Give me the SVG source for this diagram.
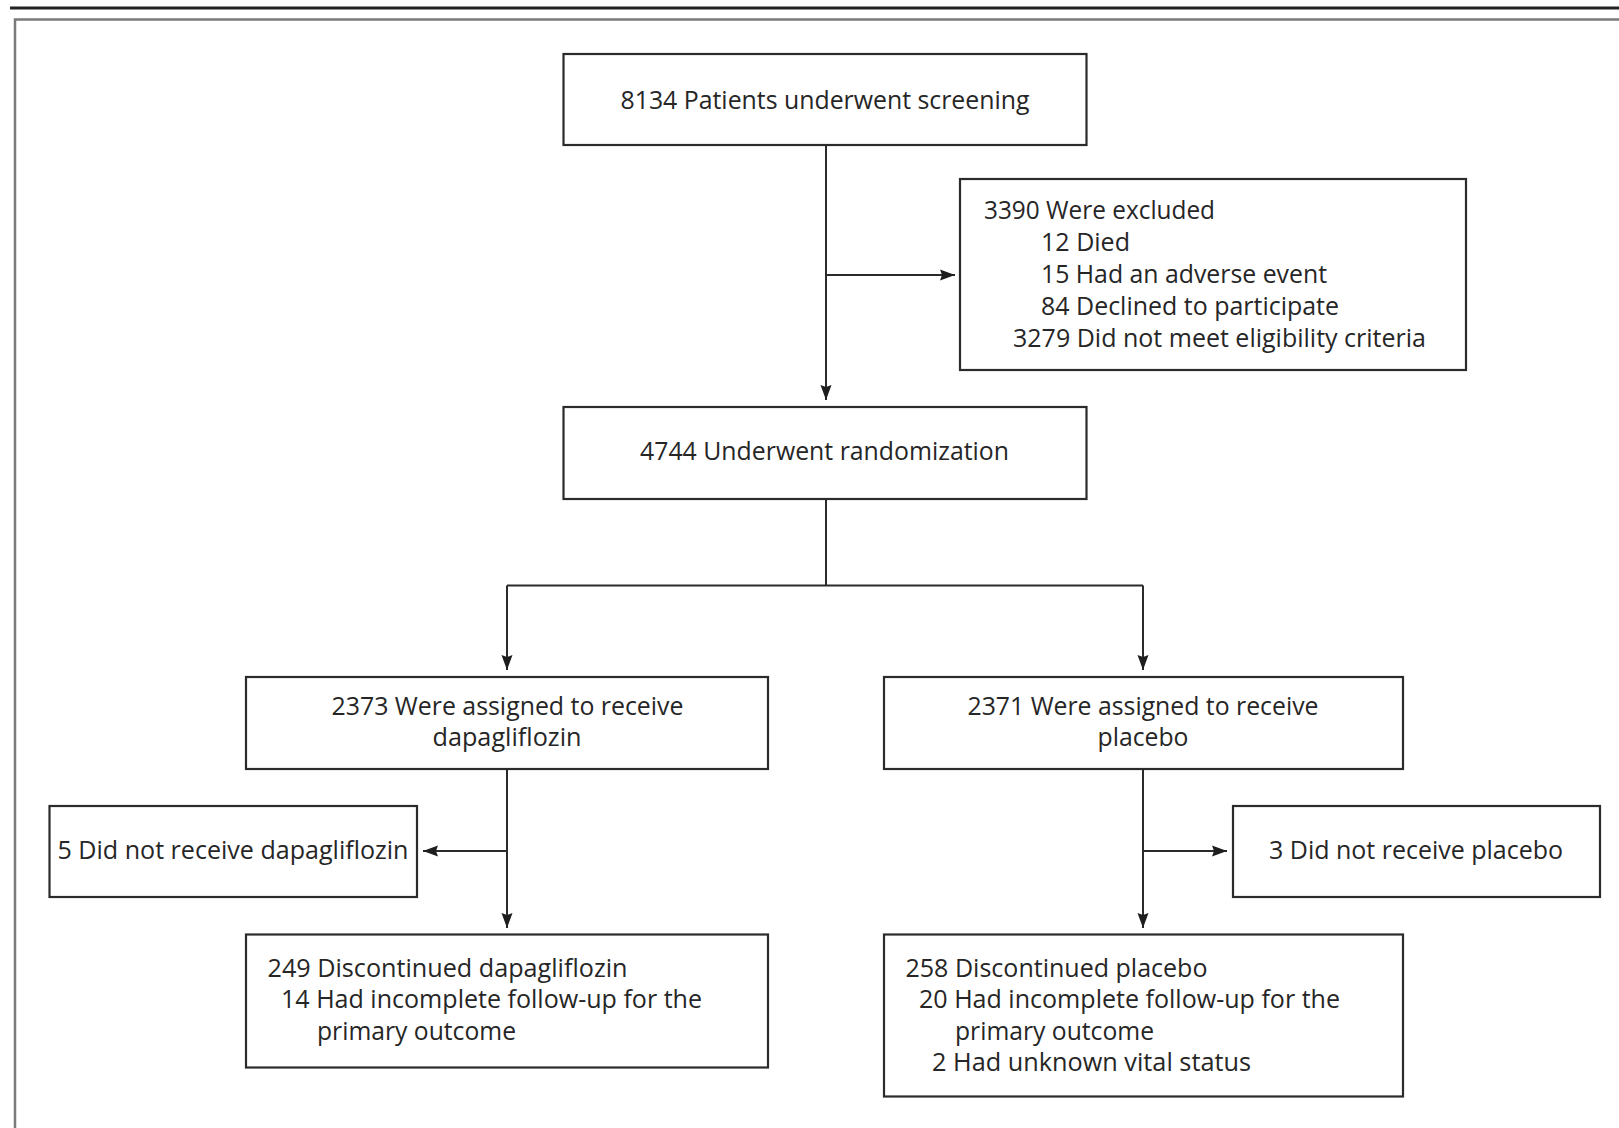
<svg xmlns="http://www.w3.org/2000/svg" width="1619" height="1128" viewBox="0 0 1619 1128">
<style>
.box{fill:#fff;stroke:#2b2b2b;stroke-width:2.2}
.t{font-family:"Open Sans","Noto Sans","Liberation Sans",sans-serif;font-size:25px;fill:#262626}
.c{fill:none;stroke:#2b2b2b;stroke-width:2}
</style>
<defs>
<marker id="ah" markerUnits="userSpaceOnUse" markerWidth="16" markerHeight="12" refX="15" refY="6" orient="auto">
<path d="M0,0.5 L15,6 L0,11.5 L2,6 z" fill="#1e1e1e"/>
</marker>
</defs>
<rect width="1619" height="1128" fill="#fff"/>
<g id="frame">
<line x1="10" y1="8" x2="1619" y2="8" stroke="#222" stroke-width="3"/>
<polyline points="15,1128 15,19.5 1619,19.5" fill="none" stroke="#7a7a7a" stroke-width="2.5"/>
</g>
<g id="connectors">
<path class="c" d="M826,145 V400" marker-end="url(#ah)"/>
<path class="c" d="M826,275 H955" marker-end="url(#ah)"/>
<path class="c" d="M826,499 V585.5 M507,585.5 H1143"/>
<path class="c" d="M507,585.5 V670" marker-end="url(#ah)"/>
<path class="c" d="M1143,585.5 V670" marker-end="url(#ah)"/>
<path class="c" d="M507,769 V928" marker-end="url(#ah)"/>
<path class="c" d="M507,851 H423" marker-end="url(#ah)"/>
<path class="c" d="M1143,769 V928" marker-end="url(#ah)"/>
<path class="c" d="M1143,851 H1227" marker-end="url(#ah)"/>
</g>
<g id="screening">
<rect class="box" x="563.5" y="54" width="523" height="91"/>
<text class="t" x="620.5" y="108.5" textLength="409" lengthAdjust="spacingAndGlyphs">8134 Patients underwent screening</text>
</g>
<g id="excluded">
<rect class="box" x="960" y="179" width="506" height="191"/>
<text class="t" x="984" y="219" textLength="231" lengthAdjust="spacingAndGlyphs">3390 Were excluded</text>
<text class="t" x="1041" y="251" textLength="89" lengthAdjust="spacingAndGlyphs">12 Died</text>
<text class="t" x="1041" y="283" textLength="286" lengthAdjust="spacingAndGlyphs">15 Had an adverse event</text>
<text class="t" x="1041" y="314.5" textLength="298" lengthAdjust="spacingAndGlyphs">84 Declined to participate</text>
<text class="t" x="1013" y="346.5" textLength="413" lengthAdjust="spacingAndGlyphs">3279 Did not meet eligibility criteria</text>
</g>
<g id="randomization">
<rect class="box" x="563.5" y="407" width="523" height="92"/>
<text class="t" x="640" y="459.5" textLength="369" lengthAdjust="spacingAndGlyphs">4744 Underwent randomization</text>
</g>
<g id="dapa">
<rect class="box" x="246" y="677" width="522" height="92"/>
<text class="t" x="331.5" y="714.5" textLength="352" lengthAdjust="spacingAndGlyphs">2373 Were assigned to receive</text>
<text class="t" x="432.5" y="745.5" textLength="149" lengthAdjust="spacingAndGlyphs">dapagliflozin</text>
</g>
<g id="placebo">
<rect class="box" x="884" y="677" width="519" height="92"/>
<text class="t" x="967.5" y="714.5" textLength="351" lengthAdjust="spacingAndGlyphs">2371 Were assigned to receive</text>
<text class="t" x="1097.5" y="745.5" textLength="91" lengthAdjust="spacingAndGlyphs">placebo</text>
</g>
<g id="noDapa">
<rect class="box" x="49.5" y="806" width="367.5" height="91"/>
<text class="t" x="57.5" y="859" textLength="351" lengthAdjust="spacingAndGlyphs">5 Did not receive dapagliflozin</text>
</g>
<g id="noPlacebo">
<rect class="box" x="1233" y="806" width="367" height="91"/>
<text class="t" x="1269" y="859" textLength="294" lengthAdjust="spacingAndGlyphs">3 Did not receive placebo</text>
</g>
<g id="discDapa">
<rect class="box" x="246" y="934.5" width="522" height="133"/>
<text class="t" x="267.5" y="976.5" textLength="360" lengthAdjust="spacingAndGlyphs">249 Discontinued dapagliflozin</text>
<text class="t" x="281" y="1008" textLength="421" lengthAdjust="spacingAndGlyphs">14 Had incomplete follow-up for the</text>
<text class="t" x="317" y="1039.5" textLength="199" lengthAdjust="spacingAndGlyphs">primary outcome</text>
</g>
<g id="discPlacebo">
<rect class="box" x="884" y="934.5" width="519" height="162"/>
<text class="t" x="905.5" y="976.5" textLength="302" lengthAdjust="spacingAndGlyphs">258 Discontinued placebo</text>
<text class="t" x="919" y="1008" textLength="421" lengthAdjust="spacingAndGlyphs">20 Had incomplete follow-up for the</text>
<text class="t" x="955" y="1039.5" textLength="199" lengthAdjust="spacingAndGlyphs">primary outcome</text>
<text class="t" x="932" y="1071" textLength="319" lengthAdjust="spacingAndGlyphs">2 Had unknown vital status</text>
</g>
</svg>
